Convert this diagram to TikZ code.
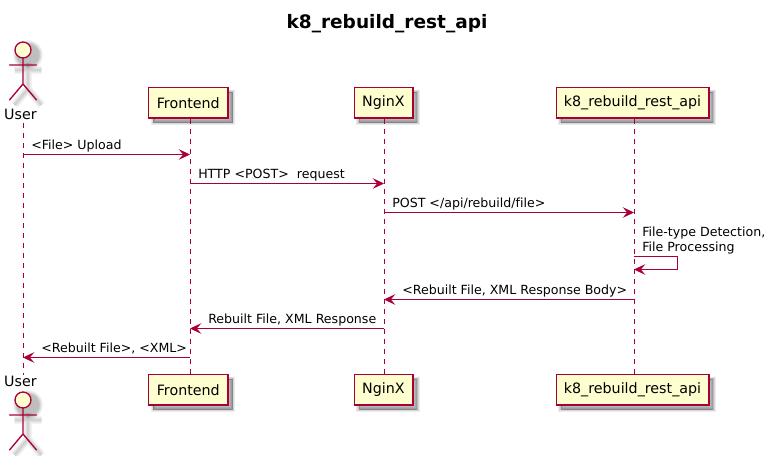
\documentclass[tikz,border=0pt]{standalone}
\usepackage{fontspec}
\setmainfont{DejaVu Sans}[Ligatures=NoCommon]
\usetikzlibrary{arrows.meta}
\definecolor{umlline}{HTML}{A80036}
\definecolor{umlfill}{HTML}{FEFECE}
\tikzset{
  x=0.75pt,y=-0.75pt,
  shade layer/.style={preaction={draw=black,fill=black,draw opacity=.08,fill opacity=.08,line width=#1,transform canvas={shift={(3.4pt,-3.4pt)}}}},
  softshadow/.style={shade layer=3.5pt,shade layer=2.2pt,shade layer=1pt,shade layer=.2pt},
  participant/.style={softshadow,draw=umlline,fill=umlfill,line width=1pt,minimum height=23pt,inner sep=0pt,font=\fontsize{10.7pt}{12pt}\selectfont},
  lifeline/.style={draw=umlline,line width=.7pt,dash pattern=on 3.75pt off 3.75pt},
  msg/.style={draw=umlline,line width=.7pt,-{Stealth[length=8.5pt,width=8pt,inset=3.4pt]}},
  msgtext/.style={anchor=base west,inner sep=0pt,font=\fontsize{9.45pt}{12pt}\selectfont},
  actorlabel/.style={anchor=base,inner sep=0pt,font=\fontsize{10.7pt}{12pt}\selectfont},
  actorline/.style={draw=umlline,line width=1pt,line cap=round},
  actorshade/.style={draw=black,line width=#1,draw opacity=.05},
}
\newcommand{\actorfig}[1]{%
  \begin{scope}[shift={(23,#1)}]
    \begin{scope}[shift={(5,5)}]
      \foreach \w in {6pt,4pt,2.5pt,1pt}{
        \draw[actorshade=\w] (-13.5,19)--(13.5,19) (0,12)--(0,38) (-13.5,54)--(0,38)--(13.5,54);
        \fill[black,opacity=.07] (0,4) circle (8+\w/2);
      }
    \end{scope}
    \draw[actorline,fill=umlfill] (0,4) circle (8);
    \draw[actorline] (-13.5,19)--(13.5,19) (0,12)--(0,38) (-13.5,54)--(0,38)--(13.5,54);
  \end{scope}}
\begin{document}
\begin{tikzpicture}
\useasboundingbox (0,0) rectangle (772,456);
\node[anchor=base,inner sep=0pt,font=\bfseries\fontsize{13.9pt}{16pt}\selectfont] (title) at (387,29) {k8\_rebuild\_rest\_api};

% lifelines' end nodes
\node[actorlabel] (ut) at (20.5,120) {User};
\node[actorlabel] (ub) at (20.5,387) {User};
\coordinate (utl) at (23,123);
\coordinate (ubl) at (23,375);
\node[participant,minimum width=59.5pt] (ft) at (188.3,102.7) {Frontend};
\node[participant,minimum width=59.5pt] (fb) at (188.3,389.7) {Frontend};
\node[participant,minimum width=44pt] (nt) at (383.5,102.7) {NginX};
\node[participant,minimum width=44pt] (nb) at (383.5,389.7) {NginX};
\node[participant,minimum width=114.5pt] (kt) at (632.5,102.7) {k8\_rebuild\_rest\_api};
\node[participant,minimum width=114.5pt] (kb) at (632.5,389.7) {k8\_rebuild\_rest\_api};
\actorfig{46}
\actorfig{396}

\coordinate (fl) at (190,0);
\coordinate (nl) at (384,0);
\coordinate (kl) at (634,0);
\draw[lifeline] (utl) -- (ubl);
\draw[lifeline] (fl |- ft.south) -- (fl |- fb.north);
\draw[lifeline] (nl |- nt.south) -- (nl |- nb.north);
\draw[lifeline] (kl |- kt.south) -- (kl |- kb.north);

% messages
\draw[msg] (utl |- 0,154.5) -- (fl |- 0,154.5);
\node[msgtext] (m1) at (31,149.5) {<File> Upload};
\draw[msg] (fl |- 0,183.5) -- (nl |- 0,183.5);
\node[msgtext] (m2) at (198,178.5) {HTTP <POST>\ \ request};
\draw[msg] (nl |- 0,212.5) -- (kl |- 0,212.5);
\node[msgtext] (m3) at (392,207.5) {POST </api/rebuild/file>};
\draw[msg] (kl |- 0,256.5) -- (677,256.5) -- (677,269.5) -- (kl |- 0,269.5);
\node[msgtext] (m4a) at (642,236.5) {File-type Detection,};
\node[msgtext] (m4b) at (642,252) {File Processing};
\draw[msg] (kl |- 0,299.5) -- (nl |- 0,299.5);
\node[msgtext] (m5) at (402,294.5) {<Rebuilt File, XML Response Body>};
\draw[msg] (nl |- 0,328.5) -- (fl |- 0,328.5);
\node[msgtext] (m6) at (208,323.5) {Rebuilt File, XML Response};
\draw[msg] (fl |- 0,357.5) -- (utl |- 0,357.5);
\node[msgtext] (m7) at (41,352.5) {<Rebuilt File>, <XML>};
\end{tikzpicture}
\end{document}
